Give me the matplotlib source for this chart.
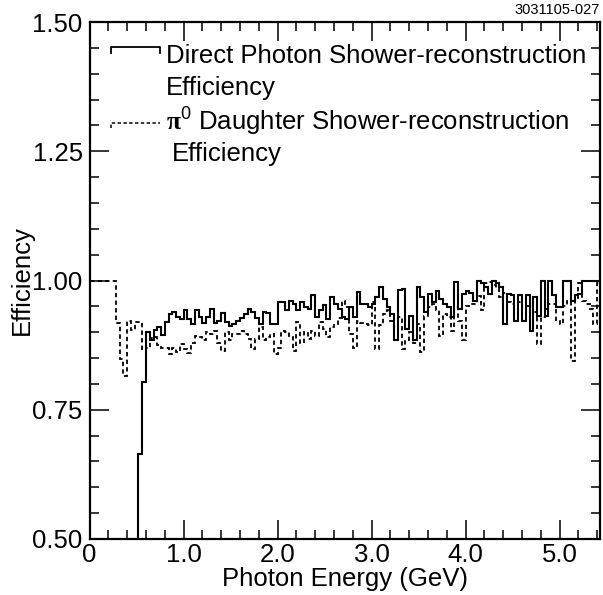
import numpy as np
import matplotlib
matplotlib.use("Agg")
import matplotlib.pyplot as plt
from matplotlib.ticker import MultipleLocator, FixedLocator

# ---------------- data ----------------
bin_width = 0.04
energy_edges = np.round(np.arange(0, 137) * bin_width, 4)  # 136 bins, 0 .. 5.44 GeV

direct_photon_eff = [
    0, 0, 0, 0, 0, 0, 0, 0, 0, 0, 0, 0, 0,
    0.665, 0.804, 0.900, 0.885, 0.905, 0.910, 0.895, 0.920, 0.935, 0.940,
    0.930, 0.925, 0.942, 0.925, 0.915, 0.942, 0.930, 0.918, 0.930, 0.945,
    0.918, 0.922, 0.938, 0.920, 0.912, 0.915, 0.922, 0.928, 0.935, 0.945,
    0.940, 0.928, 0.915, 0.940, 0.938, 0.916, 0.916, 0.958, 0.958, 0.942,
    0.961, 0.955, 0.942, 0.958, 0.948, 0.945, 0.971, 0.930, 0.942, 0.952,
    0.926, 0.968, 0.955, 0.945, 0.930, 0.926, 0.948, 0.930, 0.977, 0.955,
    0.955, 0.948, 0.955, 0.968, 0.987, 0.965, 0.948, 0.935, 0.884, 0.981,
    0.984, 0.906, 0.932, 0.884, 0.987, 0.968, 0.940, 0.974, 0.958, 0.980,
    0.964, 0.955, 0.948, 0.929, 0.997, 0.945, 0.974, 0.980, 0.975, 0.961,
    1.000, 0.995, 0.987, 0.974, 1.000, 0.995, 0.987, 0.916, 0.974, 0.971,
    0.922, 0.971, 0.922, 0.971, 0.903, 0.968, 0.932, 1.000, 0.932, 1.000,
    0.971, 0.948, 0.948, 1.000, 1.000, 0.961, 0.971, 0.974, 1.000, 1.000,
    1.000, 1.000, 1.000,
]

pi0_daughter_eff = [
    1.0, 1.0, 1.0, 1.0, 1.0, 1.0, 1.0,
    0.917, 0.849, 0.816, 0.922, 0.905, 0.920, 0.920, 0.866, 0.870, 0.888,
    0.890, 0.875, 0.870, 0.870, 0.858, 0.870, 0.862, 0.878, 0.868, 0.860,
    0.880, 0.893, 0.890, 0.884, 0.900, 0.896, 0.902, 0.880, 0.864, 0.900,
    0.884, 0.896, 0.896, 0.903, 0.896, 0.887, 0.868, 0.887, 0.910, 0.884,
    0.890, 0.896, 0.858, 0.870, 0.903, 0.900, 0.890, 0.864, 0.920, 0.880,
    0.900, 0.887, 0.903, 0.893, 0.920, 0.906, 0.890, 0.910, 0.916, 0.928,
    0.960, 0.948, 0.897, 0.870, 0.922, 0.918, 0.916, 0.913, 0.958, 0.868,
    0.913, 0.935, 0.942, 0.922, 0.910, 0.930, 0.867, 0.884, 0.900, 0.880,
    0.916, 0.861, 0.932, 0.948, 0.955, 0.942, 0.893, 0.935, 0.930, 0.903,
    0.948, 0.922, 0.884, 0.950, 0.955, 0.955, 0.970, 0.942, 0.995, 0.998,
    0.992, 0.985, 0.968, 0.975, 0.958, 0.955, 0.960, 0.958, 0.948, 0.950,
    0.948, 0.940, 0.877, 0.930, 0.945, 0.955, 0.955, 0.922, 0.916, 0.950,
    0.960, 0.845, 0.962, 0.995, 0.960, 0.955, 0.945, 0.916, 0.995,
]

x_tick_labels = ["0", "1.0", "2.0", "3.0", "4.0", "5.0"]
y_tick_labels = ["0.50", "0.75", "1.00", "1.25", "1.50"]

label_direct = ["Direct Photon Shower-reconstruction", "Efficiency"]
label_pi0 = [r"$\mathbf{\pi}^{0}$ Daughter Shower-reconstruction", "Efficiency"]

# ---------------- style ----------------
plt.rcParams["font.family"] = ["Liberation Sans", "DejaVu Sans"]
plt.rcParams["mathtext.fontset"] = "custom"
plt.rcParams["mathtext.rm"] = "Liberation Sans"
plt.rcParams["mathtext.it"] = "Liberation Sans:italic"
plt.rcParams["mathtext.bf"] = "Liberation Serif:bold"

FS = 18.5

fig = plt.figure(figsize=(6.03, 5.95), dpi=100)
ax = fig.add_axes([89.6 / 603, 1 - 539 / 595, (600 - 89.6) / 603, (539 - 22) / 595])

ax.stairs(direct_photon_eff, energy_edges, baseline=None, color="black",
          linewidth=1.5, linestyle="-")
ax.stairs(pi0_daughter_eff, energy_edges, baseline=None, color="black",
          linewidth=1.3, linestyle=(0, (2.4, 1.8)))

ax.set_xlim(0, 5.43)
ax.set_ylim(0.5, 1.5)

ax.xaxis.set_major_locator(FixedLocator([0, 1, 2, 3, 4, 5]))
ax.set_xticklabels(x_tick_labels)
ax.xaxis.set_minor_locator(MultipleLocator(0.2))
ax.yaxis.set_major_locator(FixedLocator([0.5, 0.75, 1.0, 1.25, 1.5]))
ax.set_yticklabels(y_tick_labels)
ax.yaxis.set_minor_locator(MultipleLocator(0.05))

ax.tick_params(which="both", direction="in", top=True, right=True,
               labelsize=FS, width=1.1)
ax.tick_params(axis="x", pad=3)
ax.tick_params(axis="y", pad=5)
ax.tick_params(which="major", length=14)
ax.tick_params(which="minor", length=6.5)
for s in ax.spines.values():
    s.set_linewidth(1.6)

ax.set_xlabel("Photon Energy (GeV)", fontsize=FS, labelpad=0)
ax.set_ylabel("Efficiency", fontsize=FS, labelpad=-1)

# legend (drawn manually to mimic original layout)
def px(x, y):
    return (x - 89.6) / (600 - 89.6), (539 - y) / (539 - 22)

x0, y0 = px(111, 47)
x1, _ = px(160, 47)
_, yd = px(111, 53)
ax.plot([x0, x0, x1, x1], [yd, y0, y0, yd], transform=ax.transAxes,
        color="black", linewidth=1.3, clip_on=False)
x0, y1 = px(111, 123)
_, y1d = px(111, 128)
ax.plot([x0, x0, x1], [y1d, y1, y1], transform=ax.transAxes,
        color="black", linewidth=1.1, linestyle=(0, (2.2, 1.6)), clip_on=False)

tx, ty = px(166, 56)
ax.text(tx, ty, label_direct[0], transform=ax.transAxes, fontsize=FS,
        va="center", ha="left")
tx, ty = px(166, 88)
ax.text(tx, ty, label_direct[1], transform=ax.transAxes, fontsize=FS,
        va="center", ha="left")
tx, ty = px(166, 122)
ax.text(tx, ty, label_pi0[0], transform=ax.transAxes, fontsize=FS,
        va="center", ha="left")
tx, ty = px(172, 154)
ax.text(tx, ty, label_pi0[1], transform=ax.transAxes, fontsize=FS,
        va="center", ha="left")

fig.text(600 / 603, 1 - 10 / 595, "3031105-027", fontsize=10.5,
         ha="right", va="center")

fig.savefig("out.png", dpi=100)
